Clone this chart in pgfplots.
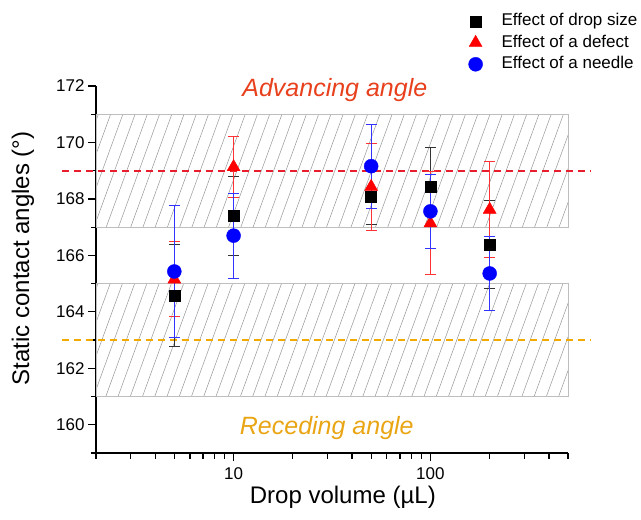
\documentclass[border=0pt]{standalone}
\usepackage{fontspec}
\setmainfont{Liberation Sans}
\usepackage{pgfplots}
\pgfplotsset{compat=1.18}
\usetikzlibrary{patterns.meta}
\definecolor{advred}{RGB}{232,64,28}
\definecolor{recorange}{RGB}{233,165,20}
\definecolor{dashred}{RGB}{232,30,45}
\definecolor{dashorange}{RGB}{240,170,0}
\definecolor{hatchgray}{RGB}{150,150,150}
\definecolor{edgegray}{RGB}{190,190,190}
\begin{document}
\begin{tikzpicture}
\begin{axis}[
  scale only axis, width=472pt, height=367pt,
  xmode=log, xmin=2, xmax=500, ymin=159, ymax=172,
  axis lines*=left,
  axis line style={line width=1.5pt},
  clip=false,
  xtick={10,100}, xticklabels={10,100},
  minor xtick={2,3,4,5,6,7,8,9,20,30,40,50,60,70,80,90,200,300,400,500},
  ytick={160,162,164,166,168,170,172},
  minor ytick={159,161,163,165,167,169,171},
  tick align=outside,
  major tick length=8pt, minor tick length=5.5pt,
  tick style={black, line width=1.2pt},
  ticklabel style={font=\fontsize{17}{20}\selectfont},
  xticklabel style={yshift=-3pt},
  /pgf/number format/assume math mode=true,
  xlabel={Drop volume (µL)},
  ylabel={Static contact angles (°)},
  label style={font=\fontsize{24}{28}\selectfont},
  ylabel style={at={(axis description cs:-0.155,0.53)}, anchor=center},
  xlabel style={at={(axis description cs:0.523,-0.12)}, anchor=center},
  legend style={at={(axis description cs:0.789,1.20)}, anchor=north west,
    draw=none, fill=none, inner sep=0pt,
    font=\fontsize{17}{20}\selectfont, row sep=4.5pt,
    nodes={inner sep=1pt, text height=12pt, text depth=3pt},
    /tikz/every odd column/.append style={column sep=18pt}},
  legend cell align=left,
]
% hatched bands
\addplot[forget plot, draw=edgegray, line width=0.7pt,
  pattern={Lines[angle=70,distance=11.5pt,line width=0.5pt]}, pattern color=hatchgray]
  coordinates {(2,167) (500,167) (500,171) (2,171)} -- cycle;
\addplot[forget plot, draw=edgegray, line width=0.7pt,
  pattern={Lines[angle=70,distance=11.5pt,line width=0.5pt]}, pattern color=hatchgray]
  coordinates {(2,161) (500,161) (500,165) (2,165)} -- cycle;
% dashed reference lines
\addplot[forget plot, dashred, line width=2pt, dash pattern=on 7pt off 5pt]
  coordinates {(1.34,169) (655,169)};
\addplot[forget plot, dashorange, line width=2pt, dash pattern=on 7pt off 5pt]
  coordinates {(1.34,163) (655,163)};
% data
\addplot[only marks, mark=square*, mark size=5.5pt, black,
  error bars/.cd, y dir=both, y explicit,
  error bar style={line width=0.9pt, black!80},
  error mark options={rotate=90, mark size=5.5pt, line width=0.9pt, black!80}]
  coordinates {
  (5,164.58) +- (0,1.82)
  (10,167.41) +- (0,1.40)
  (50,168.08) +- (0,1.00)
  (100,168.42) +- (0,1.40)
  (200,166.39) +- (0,1.55)
  };
\addlegendentry{Effect of drop size}
\addplot[only marks, mark=triangle*, mark size=7.5pt, red,
  error bars/.cd, y dir=both, y explicit,
  error bar style={line width=0.9pt, red!80},
  error mark options={rotate=90, mark size=5.5pt, line width=0.9pt, red!80}]
  coordinates {
  (5,165.15) +- (0,1.33)
  (10,169.13) +- (0,1.08)
  (50,168.43) +- (0,1.54)
  (100,167.14) +- (0,1.82)
  (200,167.62) +- (0,1.70)
  };
\addlegendentry{Effect of a defect}
\addplot[only marks, mark=*, mark size=7pt, blue,
  error bars/.cd, y dir=both, y explicit,
  error bar style={line width=0.9pt, blue!80},
  error mark options={rotate=90, mark size=5.5pt, line width=0.9pt, blue!80}]
  coordinates {
  (5,165.43) +- (0,2.35)
  (10,166.70) +- (0,1.50)
  (50,169.16) +- (0,1.49)
  (100,167.56) +- (0,1.30)
  (200,165.36) +- (0,1.30)
  };
\addlegendentry{Effect of a needle}
\node[font=\fontsize{25}{30}\selectfont\itshape, text=advred] at (axis description cs:0.506,0.99) {Advancing angle};
\node[font=\fontsize{25}{30}\selectfont\itshape, text=recorange] at (axis description cs:0.489,0.068) {Receding angle};
\end{axis}
\pgfresetboundingbox
\path ([xshift=-96pt,yshift=-66pt]current axis.south west) rectangle ([xshift=73pt,yshift=86pt]current axis.north east);
\end{tikzpicture}
\end{document}
